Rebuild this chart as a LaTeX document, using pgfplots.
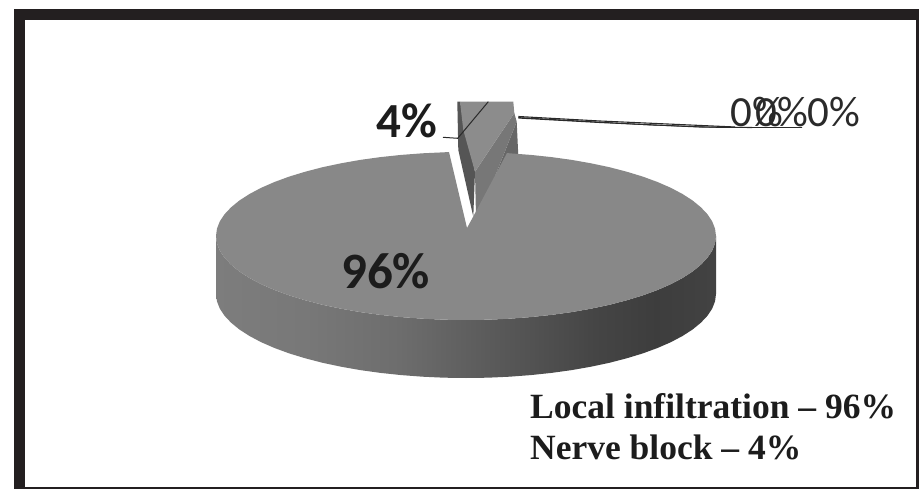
\documentclass[border=0pt]{standalone}
\usepackage{fontspec}
\setmainfont{Carlito}
\newfontfamily\notefont{Liberation Serif}
\usepackage{pgfplots}
\pgfplotsset{compat=1.18}
% Side wall of the disc: light on the left, darkest towards the right
\pgfdeclarehorizontalshading{pieside}{100bp}{
  rgb(0bp)=(0.49,0.49,0.49);
  rgb(25bp)=(0.49,0.49,0.49);
  rgb(34bp)=(0.47,0.47,0.47);
  rgb(43bp)=(0.43,0.43,0.43);
  rgb(53bp)=(0.35,0.35,0.35);
  rgb(63bp)=(0.27,0.27,0.27);
  rgb(69bp)=(0.24,0.24,0.24);
  rgb(75bp)=(0.26,0.26,0.26);
  rgb(100bp)=(0.26,0.26,0.26)}
\definecolor{frame}{HTML}{231F20}
\definecolor{pietop}{HTML}{888888}
\definecolor{wedgetop}{HTML}{8C8C8C}
\definecolor{wedgeleft}{HTML}{555555}
\definecolor{wedgemid}{HTML}{777777}
\definecolor{wedgeright}{HTML}{676767}
\definecolor{leader}{HTML}{2A2A2A}
\definecolor{labeltext}{HTML}{1C1C1C}
\begin{document}
\begin{tikzpicture}
\begin{axis}[
  scale only axis, width=919pt, height=489pt,
  xmin=0, xmax=919, ymin=0, ymax=489, y dir=reverse,
  hide axis, clip=false]
% page and frame
\addplot[fill=white, draw=none] coordinates {(0,0) (919,0) (919,489) (0,489)} -- cycle;
\addplot[fill=frame, draw=none] coordinates {(14,9) (919,9) (919,489) (14,489)} -- cycle;
\addplot[fill=white, draw=none] coordinates {(25,20) (915.7,20) (915.7,486.7) (25,486.7)} -- cycle;
% side wall of the large slice
\addplot[shading=pieside, draw=none] coordinates {
  (216,236) (216.95,243.3) (219.8,250.6) (224.5,257.7) (231.1,264.7) (239.4,271.5) (249.5,278)
  (261.2,284.2) (274.5,290) (289.2,295.4) (305.3,300.3) (322.6,304.8) (341,308.7) (360.3,312.1)
  (380.5,314.9) (401.3,317.1) (422.6,318.7) (444.2,319.7) (466,320) (487.8,319.7) (509.4,318.7)
  (530.7,317.1) (551.5,314.9) (571.7,312.1) (591,308.7) (609.4,304.8) (626.7,300.3) (642.8,295.4)
  (657.5,290) (670.8,284.2) (682.5,278) (692.6,271.5) (700.9,264.7) (707.5,257.7) (712.2,250.6)
  (715.05,243.3) (716,236)
  (716,294) (715.05,301.3) (712.2,308.6) (707.5,315.7) (700.9,322.7) (692.6,329.5) (682.5,336)
  (670.8,342.2) (657.5,348) (642.8,353.4) (626.7,358.3) (609.4,362.8) (591,366.7) (571.7,370.1)
  (551.5,372.9) (530.7,375.1) (509.4,376.7) (487.8,377.7) (466,378) (444.2,377.7) (422.6,376.7)
  (401.3,375.1) (380.5,372.9) (360.3,370.1) (341,366.7) (322.6,362.8) (305.3,358.3) (289.2,353.4)
  (274.5,348) (261.2,342.2) (249.5,336) (239.4,329.5) (231.1,322.7) (224.5,315.7) (219.8,308.6)
  (216.95,301.3) (216,294)} -- cycle;
% pulled-out small slice, 4%; its lower edges run under the large slice
\addplot[fill=wedgeleft, draw=none] coordinates {(457.3,101.7) (458.3,150) (473.3,216.7) (475,171.7) (460,101.7)} -- cycle;
\addplot[fill=wedgeright, draw=none] coordinates {(516.7,121.7) (518.3,156) (511,156) (484,204)} -- cycle;
\addplot[fill=wedgemid, draw=none] coordinates {(475,171.7) (514.3,113) (516.7,121.7) (484,204) (476,217)} -- cycle;
\addplot[fill=wedgetop, draw=none] coordinates {(460,101.7) (513.3,101.7) (514.3,113) (475,171.7) (463.3,130)} -- cycle;
% top face of the large slice, 96%
\addplot[fill=pietop, draw=none] coordinates {
  (449,152) (467,228) (473,217) (507,153)
  (509.4,153.3) (530.7,154.9) (551.5,157.1) (571.7,159.9) (591,163.3) (609.4,167.2) (626.7,171.7)
  (642.8,176.6) (657.5,182) (670.8,187.8) (682.5,194) (692.6,200.5) (700.9,207.3) (707.5,214.3)
  (712.2,221.4) (715.05,228.7) (716,236) (715.05,243.3) (712.2,250.6) (707.5,257.7) (700.9,264.7)
  (692.6,271.5) (682.5,278) (670.8,284.2) (657.5,290) (642.8,295.4) (626.7,300.3) (609.4,304.8)
  (591,308.7) (571.7,312.1) (551.5,314.9) (530.7,317.1) (509.4,318.7) (487.8,319.7) (466,320)
  (444.2,319.7) (422.6,318.7) (401.3,317.1) (380.5,314.9) (360.3,312.1) (341,308.7) (322.6,304.8)
  (305.3,300.3) (289.2,295.4) (274.5,290) (261.2,284.2) (249.5,278) (239.4,271.5) (231.1,264.7)
  (224.5,257.7) (219.8,250.6) (216.95,243.3) (216,236) (216.95,228.7) (219.8,221.4) (224.5,214.3)
  (231.1,207.3) (239.4,200.5) (249.5,194) (261.2,187.8) (274.5,182) (289.2,176.6) (305.3,171.7)
  (322.6,167.2) (341,163.3) (360.3,159.9) (380.5,157.1) (401.3,154.9) (422.6,153.3) (444.2,152.3)} -- cycle;
% leader lines
\addplot[leader, line width=1pt] coordinates {(443,137.3) (457.7,138.3) (488.3,101.7)};
\addplot[leader, line width=1.1pt] coordinates {(518.3,116.5) (600,121) (735,127)};
\addplot[leader, line width=1.1pt] coordinates {(518.3,118) (600,122.5) (700,127) (752,127.5)};
\addplot[leader, line width=0.8pt] coordinates {(518.3,117.5) (650,125) (720,127.5) (802,127.5)};
% labels
\node[anchor=base west, inner sep=0pt, text=labeltext] at (axis cs:376,138) {\fontsize{49}{49}\selectfont\bfseries 4\%};
\node[anchor=base west, inner sep=0pt, text=labeltext] at (axis cs:341,289) {\fontsize{51}{51}\selectfont\bfseries 96\%};
\node[anchor=base west, inner sep=0pt, text=leader] at (axis cs:730,127) {\fontsize{43}{43}\selectfont 0\%};
\node[anchor=base west, inner sep=0pt, text=leader] at (axis cs:755,127) {\fontsize{43}{43}\selectfont 0\%};
\node[anchor=base west, inner sep=0pt, text=leader] at (axis cs:807,127) {\fontsize{43}{43}\selectfont 0\%};
\node[anchor=base west, inner sep=0pt, text=labeltext] at (axis cs:530,418) {\fontsize{35.5}{35.5}\selectfont\notefont\bfseries Local infiltration – 96\%};
\node[anchor=base west, inner sep=0pt, text=labeltext] at (axis cs:530,459) {\fontsize{35.5}{35.5}\selectfont\notefont\bfseries Nerve block – 4\%};
\end{axis}
\end{tikzpicture}
\end{document}
